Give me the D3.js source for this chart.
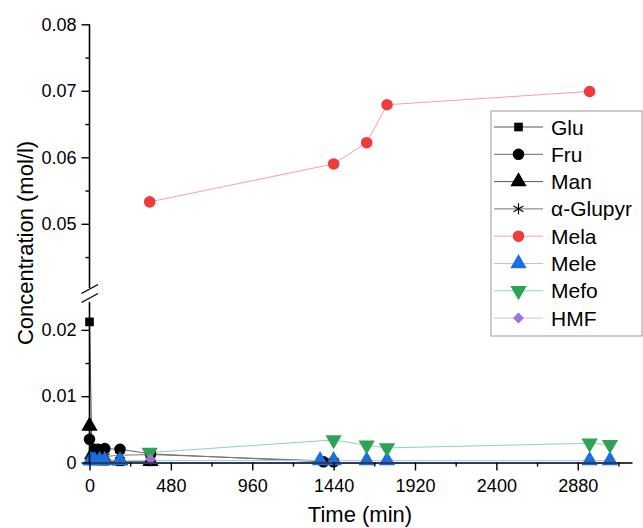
<!DOCTYPE html>
<html>
<head>
<meta charset="utf-8">
<script src="https://cdn.jsdelivr.net/npm/d3@7"></script>
<style>
  body { margin: 0; background: #fff; }
  svg { font-family: "Liberation Sans", Arial, sans-serif; }
</style>
</head>
<body>
<div id="chart"></div>
<script>
// data (time in min, concentration in mol/l)
const gluTime = [0, 15, 30, 60, 90, 180, 360];
const gluConc = [0.0212, 0.0008, 0.0005, 0.0003, 0.0002, 0.0001, 0.0001];
const fruTime = [0, 30, 50, 90, 180, 360, 1380, 1440];
const fruConc = [0.0035, 0.0020, 0.0020, 0.0021, 0.0020, 0.0013, 0.0001, 0.0001];
const manTime = [0, 15, 30, 60, 90, 180, 360];
const manConc = [0.0055, 0.0012, 0.0008, 0.0005, 0.0004, 0.0003, 0.0002];
const glupyrTime = [30, 60, 90, 180, 360, 1440];
const glupyrConc = [0.0012, 0.0010, 0.0009, 0.0011, 0.0012, 0.0002];
const melaTime = [355, 1440, 1635, 1755, 2950];
const melaConc = [0.0533, 0.0590, 0.0622, 0.0679, 0.0699];
const meleTime = [5, 15, 30, 60, 90, 180, 1360, 1440, 1635, 1755, 2950, 3070];
const meleConc = [0.0003, 0.0003, 0.0003, 0.0003, 0.0003, 0.0003, 0.0003, 0.0003, 0.0003, 0.0003, 0.0003, 0.0003];
const mefoTime = [355, 1440, 1635, 1755, 2950, 3070];
const mefoConc = [0.0015, 0.0034, 0.0026, 0.0022, 0.0029, 0.0027];
const hmfTime = [360];
const hmfConc = [0.0005];

const seriesNames = ["Glu", "Fru", "Man", "\u03b1-Glupyr", "Mela", "Mele", "Mefo", "HMF"];

const xTicks = d3.range(0, 3200, 480);
const xMinor = d3.range(240, 3200, 480);
const yLowTicks = [0, 0.01, 0.02];
const yLowMinor = [0.005, 0.015];
const yUpTicks = [0.05, 0.06, 0.07, 0.08];
const yUpMinor = [0.045, 0.055, 0.065, 0.075];

const W = 643, H = 528;

const svg = d3.select("#chart").append("svg")
  .attr("width", W).attr("height", H);

const x = d3.scaleLinear().domain([0, 3200]).range([89.5, 632]);
const yLow = d3.scaleLinear().domain([0, 0.025]).range([462.5, 296.7]);
const yUp = d3.scaleLinear().domain([0.04, 0.08]).range([290.3, 24.3]);
const y = v => v >= 0.035 ? yUp(v) : yLow(v);

const symbols = {
  "Glu": d3.symbolSquare,
  "Fru": d3.symbolCircle,
  "Man": d3.symbolTriangle,
  "\u03b1-Glupyr": d3.symbolAsterisk,
  "Mela": d3.symbolCircle,
  "Mele": d3.symbolTriangle,
  "Mefo": d3.symbolTriangle,
  "HMF": d3.symbolSquare
};
const rotations = { "Mefo": 180, "HMF": 45 };
const fills = {
  "Glu": "#000", "Fru": "#000", "Man": "#000", "\u03b1-Glupyr": "#000",
  "Mela": "#ef3b3c", "Mele": "#1a6fe0", "Mefo": "#2ea257", "HMF": "#a56fd9"
};
const lineColors = {
  "Glu": "#555", "Fru": "#666", "Man": "#555", "\u03b1-Glupyr": "#777",
  "Mela": "#f7a0a0", "Mele": "#a8c8f2", "Mefo": "#92d3a8", "HMF": "#d5bcef"
};

const times = [gluTime, fruTime, manTime, glupyrTime, melaTime, meleTime, mefoTime, hmfTime];
const concs = [gluConc, fruConc, manConc, glupyrConc, melaConc, meleConc, mefoConc, hmfConc];
const series = seriesNames.map((name, i) => ({
  name,
  points: times[i].map((t, j) => ({ t, c: concs[i][j] }))
}));

function markerSize(name) {
  if (name === "Glu") return 75;
  if (name === "\u03b1-Glupyr") return 90;
  if (name === "HMF") return 60;
  if (symbols[name] === d3.symbolTriangle) return 115;
  return 105;
}
function drawMarker(g, name, px, py) {
  const rot = rotations[name] ? ` rotate(${rotations[name]})` : "";
  const p = g.append("path")
    .attr("d", d3.symbol().type(symbols[name]).size(markerSize(name))())
    .attr("transform", `translate(${px},${py})` + rot);
  if (name === "\u03b1-Glupyr") {
    p.attr("fill", "none").attr("stroke", "#000").attr("stroke-width", 1.2);
  } else {
    p.attr("fill", fills[name]);
  }
}

// series lines and markers
const plot = svg.append("g");
const line = d3.line().x(d => x(d.t)).y(d => y(d.c));
series.forEach(s => {
  plot.append("path")
    .datum(s.points)
    .attr("fill", "none")
    .attr("stroke", lineColors[s.name])
    .attr("stroke-width", 1)
    .attr("d", line);
});
series.forEach(s => {
  const g = plot.append("g");
  s.points.forEach(d => drawMarker(g, s.name, x(d.t), y(d.c)));
});

// x axis
const xAxisG = svg.append("g").attr("transform", `translate(0,${yLow(0)})`);
xAxisG.call(d3.axisBottom(x).tickValues(xTicks).tickSize(8).tickSizeOuter(0).tickFormat(d3.format("d")));
xAxisG.append("g").call(d3.axisBottom(x).tickValues(xMinor).tickSize(4).tickFormat(""))
  .select(".domain").remove();
xAxisG.select(".domain").attr("stroke", "#2f3b55").attr("stroke-width", 2.2);
xAxisG.selectAll(".tick line").attr("stroke-width", 1.4);
xAxisG.selectAll(".tick text").attr("font-size", 18).attr("fill", "#000").attr("dy", "1.05em");

// lower y axis
const yLowG = svg.append("g").attr("transform", `translate(${x(0)},0)`);
yLowG.call(d3.axisLeft(yLow).tickValues(yLowTicks).tickSize(8).tickSizeOuter(0)
  .tickFormat(d => d === 0 ? "0" : d3.format(".2f")(d)));
yLowG.append("g").call(d3.axisLeft(yLow).tickValues(yLowMinor).tickSize(4).tickFormat(""))
  .select(".domain").remove();
yLowG.select(".domain").attr("d", `M0,${yLow(0)}V302`).attr("stroke-width", 1.6);

// upper y axis
const yUpG = svg.append("g").attr("transform", `translate(${x(0)},0)`);
yUpG.call(d3.axisLeft(yUp).tickValues(yUpTicks).tickSize(8).tickSizeOuter(0).tickFormat(d3.format(".2f")));
yUpG.append("g").call(d3.axisLeft(yUp).tickValues(yUpMinor).tickSize(4).tickFormat(""))
  .select(".domain").remove();
yUpG.select(".domain").attr("d", `M0,${yUp(0.08)}V288`).attr("stroke-width", 1.6);

[yLowG, yUpG].forEach(g => {
  g.selectAll(".tick line").attr("stroke-width", 1.4);
  g.selectAll(".tick text").attr("font-size", 18).attr("fill", "#000").attr("x", -13);
});

// axis break marks
const brk = svg.append("g");
brk.append("path")
  .attr("d", "M81.5,293.5L98,284.5L98,293.5L81.5,302.5Z")
  .attr("fill", "#fff");
brk.append("line").attr("x1", 81.5).attr("y1", 293.5).attr("x2", 98).attr("y2", 284.5)
  .attr("stroke", "#000").attr("stroke-width", 1.4);
brk.append("line").attr("x1", 81.5).attr("y1", 302.5).attr("x2", 98).attr("y2", 293.5)
  .attr("stroke", "#000").attr("stroke-width", 1.4);

// axis titles
svg.append("text")
  .attr("x", 360).attr("y", 522)
  .attr("text-anchor", "middle")
  .attr("font-size", 22)
  .text("Time (min)");
svg.append("text")
  .attr("transform", "translate(33,243) rotate(-90)")
  .attr("text-anchor", "middle")
  .attr("font-size", 22)
  .text("Concentration (mol/l)");

// legend
const legend = svg.append("g");
legend.append("rect")
  .attr("x", 491).attr("y", 111)
  .attr("width", 151).attr("height", 225)
  .attr("fill", "#fff")
  .attr("stroke", "#aaa").attr("stroke-width", 1.2);
seriesNames.forEach((name, i) => {
  const ly = 127 + i * 27.3;
  legend.append("line")
    .attr("x1", 494).attr("x2", 543)
    .attr("y1", ly).attr("y2", ly)
    .attr("stroke", lineColors[name]).attr("stroke-width", 1);
  drawMarker(legend, name, 518.5, ly);
  legend.append("text")
    .attr("x", 551).attr("y", ly)
    .attr("dy", "0.36em")
    .attr("font-size", 21)
    .text(name);
});
</script>
</body>
</html>
